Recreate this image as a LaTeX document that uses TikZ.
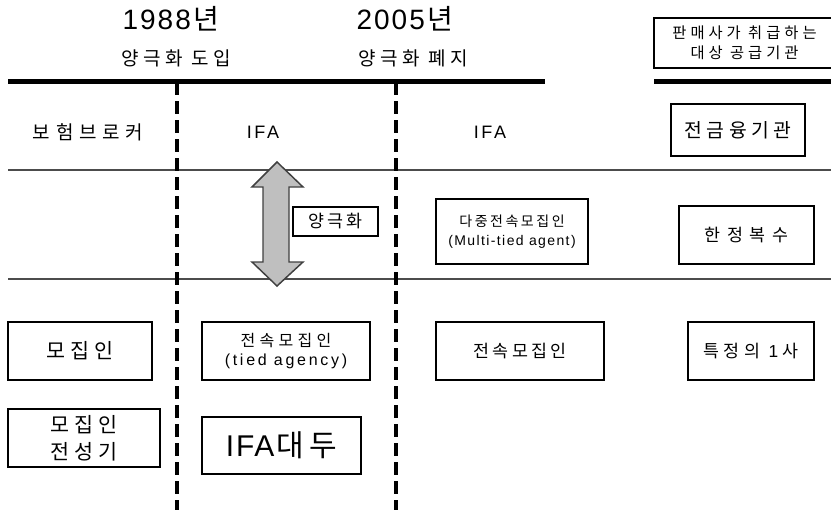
\documentclass[tikz,border=0pt]{standalone}
\usepackage{fontspec}
\setmainfont{Noto Sans CJK KR}
\newfontfamily\lat{Liberation Sans}
\newcommand\fsz[2]{\fontsize{#1}{#2}\selectfont}
\newcommand\trk[1]{\addfontfeature{LetterSpace=#1}}
\begin{document}
\begin{tikzpicture}[x=0.75pt,y=-0.75pt,
  box/.style={draw=black,line width=0.9pt,inner sep=0pt,align=center},
  lbl/.style={inner sep=0pt,align=center},
  heavyrule/.style={line width=3.75pt},
  thinrule/.style={draw=black!70,line width=1.2pt},
  period/.style={line width=3pt,dash pattern=on 9.75pt off 4.5pt},
  fatarrow/.style={fill=black!25,draw=black!75,line width=1.1pt,line join=miter}]
\useasboundingbox (0,0) rectangle (831,510);
% rules
\draw[thinrule] (8,170) -- (831,170);
\draw[thinrule] (8,279) -- (831,279);
\draw[heavyrule] (8,82) -- (545,82);
\draw[heavyrule] (654,82) -- (831,82);
\draw[period] (177,82) -- (177,510);
\draw[period] (396,82) -- (396,510);
% header
\node[lbl,font=\fsz{21pt}{24pt}] (y1988) at (171,19) {{\lat\trk{7}1988}\hspace{2pt}년};
\node[lbl,font=\fsz{21pt}{24pt}] (y2005) at (405,19) {{\lat\trk{7}2005}\hspace{2pt}년};
\node[lbl,font=\fsz{14.25pt}{17pt}\trk{24}] (intro) at (176,58) {양극화 도입};
\node[lbl,font=\fsz{14.25pt}{17pt}\trk{24}] (abol) at (413,58) {양극화 폐지};
\node[box,minimum width=135.75pt,minimum height=37.5pt,font=\fsz{11.5pt}{15pt}\trk{26}] (supplier) at (744.5,43) {판매사가 취급하는\\대상 공급기관};
% row 1
\node[lbl,font=\fsz{14.25pt}{16pt}\trk{30}] (broker) at (88,132) {보험브로커};
\node[lbl,font=\fsz{13.5pt}{16pt}\lat\trk{15}] (ifa1) at (263,132) {IFA};
\node[lbl,font=\fsz{13.5pt}{16pt}\lat\trk{15}] (ifa2) at (490,132) {IFA};
\node[box,minimum width=100.5pt,minimum height=39pt,font=\fsz{14.5pt}{17pt}\trk{24}] (allfi) at (738,130) {전금융기관};
% row 2
\draw[fatarrow] (277,162) -- (303,187) -- (289,187) -- (289,262) -- (303,262) -- (277,286) -- (252,262) -- (263,262) -- (263,187) -- (252,187) -- cycle;
\node[box,minimum width=63.75pt,minimum height=21.75pt,font=\fsz{13pt}{15pt}\trk{16}] (polar) at (335.5,221.5) {양극화};
\node[box,minimum width=114pt,minimum height=48.75pt,font=\fsz{10.5pt}{14.25pt}] (multi) at (512,231.5) {{\trk{18}다중전속모집인}\\{\lat\trk{10}(Multi-tied agent)}};
\node[box,minimum width=101.25pt,minimum height=43.5pt,font=\fsz{13pt}{15pt}\trk{38}] (limited) at (746.5,235) {한정복수};
% row 3
\node[box,minimum width=108pt,minimum height=43.5pt,font=\fsz{15.5pt}{18pt}\trk{22}] (agent) at (80,351) {모집인};
\node[box,minimum width=126pt,minimum height=43.5pt,font=\fsz{12pt}{14.25pt}] (tied) at (286,351) {{\trk{27}전속모집인}\\{\lat\trk{17}(tied agency)}};
\node[box,minimum width=126pt,minimum height=43.5pt,font=\fsz{13pt}{15pt}\trk{18}] (tied2) at (520,351) {전속모집인};
\node[box,minimum width=94.5pt,minimum height=43.5pt,font=\fsz{13pt}{15pt}\trk{26}] (single) at (751,351) {특정의 {\lat 1}\hspace{3.5pt}사};
% row 4
\node[box,minimum width=114pt,minimum height=43.5pt,font=\fsz{15.5pt}{20.25pt}\trk{22}] (heyday) at (84,438) {모집인\\전성기};
\node[box,minimum width=119.25pt,minimum height=42.75pt,font=\fsz{22.5pt}{26pt}] (rise) at (281.5,445.5) {{\lat\trk{6}IFA}\hspace{1.5pt}{\trk{18}대두}};
\end{tikzpicture}
\end{document}
